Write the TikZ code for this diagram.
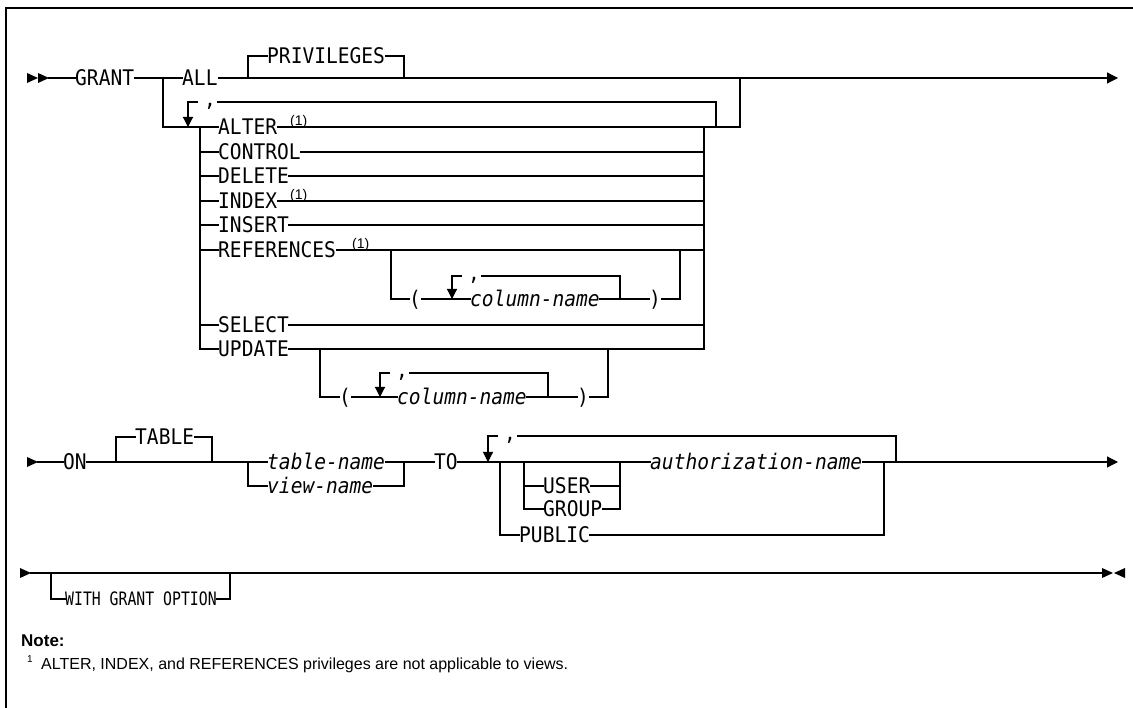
\documentclass[tikz,border=0pt]{standalone}
\usepackage{fontspec}
\usetikzlibrary{arrows.meta}
\newfontfamily\railfont[FakeStretch=0.91]{DejaVu Sans Mono}
\newfontfamily\railcond[FakeStretch=0.8]{DejaVu Sans Mono}
\newfontfamily\notefont{Liberation Sans}
\tikzset{
  rail/.style={line width=1.2pt, line cap=rect},
  railkw/.style={font=\railfont\fontsize{21.5}{22}\selectfont, inner sep=0pt, anchor=west, text height=15pt, text depth=0pt},
  railvar/.style={railkw, font=\railfont\itshape\fontsize{21.5}{22}\selectfont},
  railsmall/.style={railkw, font=\railcond\fontsize{18.5}{19}\selectfont, text height=13pt},
  fnref/.style={font=\notefont\fontsize{14}{14}\selectfont, inner sep=0pt, anchor=base west},
  commasep/.style={font=\railfont\fontsize{21.5}{22}\selectfont, inner sep=0pt, anchor=base},
  repeatline/.style={line width=1.2pt, -{Triangle[length=10pt,width=10pt]}},
  endline/.style={line width=1.2pt, -{Triangle[length=11pt,width=11pt]}},
  notetext/.style={font=\notefont\fontsize{16}{18}\selectfont, inner sep=0pt, anchor=base west},
}
\begin{document}
\begin{tikzpicture}[x=1pt, y=-1pt]
  \useasboundingbox (0,0) rectangle (1133,708);
  % frame
  \draw[line width=1.5pt] (6,708) -- (6,8) -- (1133,8);

  % first line: GRANT
  \fill (27,73) -- (38,78) -- (27,83) -- cycle;
  \fill (38,73) -- (49,78) -- (38,83) -- cycle;
  \coordinate (start1) at (49,78);
  \coordinate (end1) at (1118,78);
  \node[railkw] (grant) at (75,78) {GRANT};
  \node[railkw] (all) at (182,78) {ALL};
  \node[railkw] (priv) at (267,56) {PRIVILEGES};
  \draw[rail] (start1) -- (grant.west);
  \draw[rail] (grant.east) -- (all.west);
  \draw[endline] (all.east) -- (end1);
  \draw[rail] (248,78) |- (priv.west);
  \draw[rail] (priv.east) -| (404,78);

  % privilege list
  \foreach \n/\t/\y in {alter/ALTER/127, control/CONTROL/152, delete/DELETE/176,
      index/INDEX/201, insert/INSERT/225, refs/REFERENCES/250,
      select/SELECT/325, update/UPDATE/349}{
    \node[railkw] (\n) at (218,\y) {\t};
    \draw[rail] (200,\y) -- (\n.west);
    \draw[rail] (\n.east) -- (704,\y);
  }
  \draw[rail] (163,78) |- (200,127);
  \draw[rail] (200,127) -- (200,349);
  \draw[rail] (704,127) -- (704,349);
  \draw[rail] (704,127) -- (740,127) -- (740,78);
  \node[commasep] (comma1) at (210,107) {,};
  \draw[rail] (716,127) -- (716,102) -- (218,102);
  \draw[repeatline] (198,102) -- (188,102) -- (188,127);
  \node[fnref] (altnote) at (290,126) {(1)};
  \node[fnref] (idxnote) at (290,200) {(1)};
  \node[fnref] (refnote) at (352,249) {(1)};

  % REFERENCES columns
  \node[railkw] (refopen) at (409,299) {(};
  \node[railvar] (refcol) at (470,299) {column-name};
  \node[railkw] (refclose) at (649,299) {)};
  \draw[rail] (391,250) |- (refopen.west);
  \draw[rail] (refopen.east) -- (refcol.west);
  \draw[rail] (refcol.east) -- (refclose.west);
  \draw[rail] (refclose.east) -| (680,250);
  \node[commasep] (refcomma) at (474,281) {,};
  \draw[rail] (620,299) -- (620,276) -- (482,276);
  \draw[repeatline] (462,276) -- (452,276) -- (452,299);

  % UPDATE columns
  \node[railkw] (updopen) at (339,397) {(};
  \node[railvar] (updcol) at (397,397) {column-name};
  \node[railkw] (updclose) at (577,397) {)};
  \draw[rail] (320,349) |- (updopen.west);
  \draw[rail] (updopen.east) -- (updcol.west);
  \draw[rail] (updcol.east) -- (updclose.west);
  \draw[rail] (updclose.east) -| (608,349);
  \node[commasep] (updcomma) at (402,378) {,};
  \draw[rail] (548,397) -- (548,373) -- (410,373);
  \draw[repeatline] (390,373) -- (380,373) -- (380,397);

  % second line: ON ... TO
  \fill (27,457) -- (38,462) -- (27,467) -- cycle;
  \coordinate (start2) at (38,462);
  \coordinate (end2) at (1118,462);
  \node[railkw] (on) at (63,462) {ON};
  \node[railkw] (table) at (135,437) {TABLE};
  \node[railvar] (tabname) at (267,462) {table-name};
  \node[railvar] (viewname) at (267,486) {view-name};
  \node[railkw] (to) at (434,462) {TO};
  \node[railkw] (user) at (543,486) {USER};
  \node[railkw] (group) at (543,509) {GROUP};
  \node[railvar] (authname) at (650,462) {authorization-name};
  \node[railkw] (public) at (519,535) {PUBLIC};
  \draw[rail] (start2) -- (on.west);
  \draw[rail] (on.east) -- (tabname.west);
  \draw[rail] (116,462) |- (table.west);
  \draw[rail] (table.east) -| (212,462);
  \draw[rail] (248,462) |- (viewname.west);
  \draw[rail] (tabname.east) -- (to.west);
  \draw[rail] (viewname.east) -| (404,462);
  \draw[rail] (to.east) -- (authname.west);
  \draw[rail] (500,462) |- (public.west);
  \draw[rail] (524,462) |- (group.west);
  \draw[rail] (524,486) -- (user.west);
  \draw[rail] (user.east) -- (620,486);
  \draw[rail] (group.east) -| (620,462);
  \draw[endline] (authname.east) -- (end2);
  \draw[rail] (public.east) -| (884,462);
  \node[commasep] (tocomma) at (510,441) {,};
  \draw[rail] (896,462) -- (896,436) -- (518,436);
  \draw[repeatline] (498,436) -- (488,436) -- (488,462);

  % third line: WITH GRANT OPTION
  \fill (20,568) -- (31,573) -- (20,578) -- cycle;
  \coordinate (start3) at (31,573);
  \coordinate (end3) at (1102,573);
  \node[railsmall] (withgrant) at (65,599) {WITH GRANT OPTION};
  \draw[rail] (start3) -- (end3);
  \fill (1102,568) -- (1113,573) -- (1102,578) -- cycle;
  \fill (1125,568) -- (1114,573) -- (1125,578) -- cycle;
  \draw[rail] (51,573) |- (withgrant.west);
  \draw[rail] (withgrant.east) -| (230,573);

  % note
  \node[notetext, font=\notefont\bfseries\fontsize{17}{18}\selectfont] (note) at (21,646) {Note:};
  \node[fnref, font=\notefont\fontsize{10}{10}\selectfont] (fnmark) at (27,662) {1};
  \node[notetext] (fntext) at (41,669) {ALTER, INDEX, and REFERENCES privileges are not applicable to views.};
\end{tikzpicture}
\end{document}
